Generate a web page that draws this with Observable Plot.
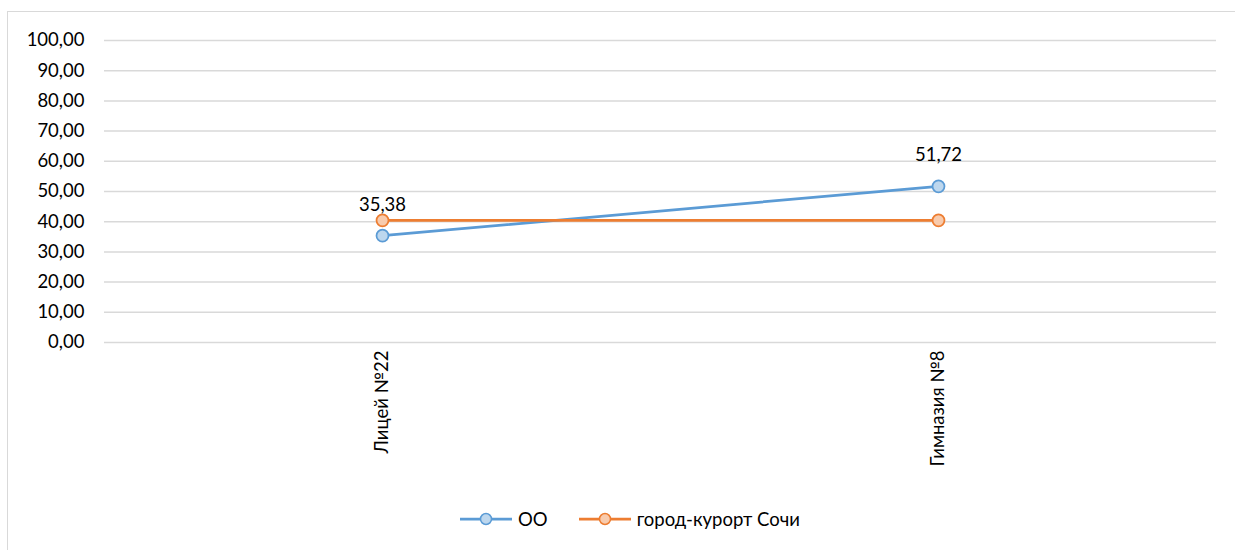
<!DOCTYPE html>
<html>
<head>
<meta charset="utf-8">
<script src="https://cdn.jsdelivr.net/npm/d3@7"></script>
<script src="https://cdn.jsdelivr.net/npm/@observablehq/plot@0.6"></script>
<style>
  html, body { margin: 0; padding: 0; background: #fff; }
  body { width: 1235px; height: 550px; position: relative; overflow: hidden; font-family: Lato, "Open Sans", sans-serif; }
  #frame { position: absolute; left: 7px; top: 11px; width: 1300px; height: 600px; border-left: 1.5px solid #d9d9d9; border-top: 1.5px solid #d9d9d9; }
  #chart { position: absolute; left: 0; top: 0; }
  #legend { position: absolute; left: 459px; top: 508px; display: flex; align-items: center; font-size: 18.5px; color: #000; }
  #legend .item { display: flex; align-items: center; margin-right: 30px; }
  #legend svg { margin-right: 5px; }
</style>
</head>
<body>
<div id="frame"></div>
<div id="chart"></div>
<div id="legend"></div>
<script>
const categories = ["Лицей №22", "Гимназия №8"];
const ooValues = [35.38, 51.72];
const sochiValues = [40.45, 40.45];
const seriesNames = ["ОО", "город-курорт Сочи"];
const seriesColors = ["#5B9BD5", "#ED7D31"];
const seriesFills = ["#BDD7EE", "#F8CBAD"];
const yTicks = [0, 10, 20, 30, 40, 50, 60, 70, 80, 90, 100];
const labelledSeries = "ОО";

const fmt = d => d.toFixed(2).replace(".", ",");
const allValues = [ooValues, sochiValues];
const rows = [];
seriesNames.forEach((s, i) => categories.forEach((c, j) => rows.push({series: s, cat: c, value: allValues[i][j]})));

const FS = 18.5;
const marks = [
  Plot.gridY(yTicks, {stroke: "#d9d9d9", strokeOpacity: 1, strokeWidth: 1.5}),
  Plot.axisY({ticks: yTicks, tickFormat: fmt, tickSize: 0, tickPadding: 20, fontSize: FS, fill: "#000", label: null}),
  Plot.axisX({tickRotate: -90, tickSize: 0, tickPadding: 8, fontSize: FS, fill: "#000", label: null})
];
seriesNames.forEach((s, i) => {
  const d = rows.filter(r => r.series === s);
  marks.push(Plot.line(d, {x: "cat", y: "value", stroke: seriesColors[i], strokeWidth: 2.75}));
});
seriesNames.forEach((s, i) => {
  const d = rows.filter(r => r.series === s);
  marks.push(Plot.dot(d, {x: "cat", y: "value", r: 6, stroke: seriesColors[i], strokeWidth: 1.75, fill: seriesFills[i]}));
});
marks.push(Plot.text(rows.filter(r => r.series === labelledSeries), {x: "cat", y: "value", text: d => fmt(d.value), dy: -31, fontSize: FS, fill: "#000"}));

const chart = Plot.plot({
  width: 1235,
  height: 500,
  marginTop: 40,
  marginBottom: 158,
  marginLeft: 104,
  marginRight: 19,
  style: {fontFamily: "Lato, 'Open Sans', sans-serif", background: "transparent"},
  x: {type: "point", domain: categories, padding: 0.5, label: null},
  y: {domain: [0, 100], label: null},
  marks
});
document.getElementById("chart").appendChild(chart);

const legend = document.getElementById("legend");
seriesNames.forEach((s, i) => {
  const item = document.createElement("div");
  item.className = "item";
  item.innerHTML = `<svg width="54" height="16"><line x1="1" x2="53" y1="8" y2="8" stroke="${seriesColors[i]}" stroke-width="2.75"/><circle cx="27" cy="8" r="5.5" fill="${seriesFills[i]}" stroke="${seriesColors[i]}" stroke-width="1.5"/></svg><span>${s}</span>`;
  legend.appendChild(item);
});
</script>
</body>
</html>
